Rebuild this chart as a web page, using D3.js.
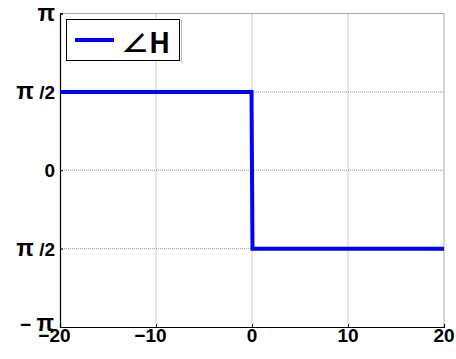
<!DOCTYPE html>
<html><head><meta charset="utf-8">
<script src="https://cdn.jsdelivr.net/npm/d3@7"></script>
<style>body{margin:0;background:#fff}</style>
</head><body>
<svg id="c" width="456" height="359"></svg>
<script>
const xs = [-20, -0.05, 0.05, 20];
const phase = [Math.PI/2, Math.PI/2, -Math.PI/2, -Math.PI/2];
const xTicks = [-20, -10, 0, 10, 20];
const xTickLabels = ["−20", "−10", "0", "10", "20"];
const yTicks = [-Math.PI, -Math.PI/2, 0, Math.PI/2, Math.PI];
const yTickLabels = ["− π", "π /2", "0", "π /2", "π"];
const legendLabel = "∠H";

const svg = d3.select("#c");
const L = 60, R = 444, T = 13.5, B = 327;
const x = d3.scaleLinear().domain([-20, 20]).range([L, R]);
const y = d3.scaleLinear().domain([-Math.PI, Math.PI]).range([B, T]);

// grid
const g = svg.append("g");
g.selectAll(".gx").data(xTicks.slice(1, -1)).enter().append("line")
  .attr("x1", d => x(d)).attr("x2", d => x(d)).attr("y1", T).attr("y2", B)
  .attr("stroke", "#999").attr("stroke-width", 1).attr("stroke-dasharray", "1,1");
g.selectAll(".gy").data(yTicks.slice(1, -1)).enter().append("line")
  .attr("y1", d => y(d)).attr("y2", d => y(d)).attr("x1", L).attr("x2", R)
  .attr("stroke", "#999").attr("stroke-width", 1).attr("stroke-dasharray", "1,1");
// top & right borders
svg.append("line").attr("x1", L).attr("x2", R).attr("y1", T).attr("y2", T).attr("stroke", "#aaa");
svg.append("line").attr("x1", R).attr("x2", R).attr("y1", T).attr("y2", B).attr("stroke", "#aaa");

// axes
const font = "'Liberation Sans', Arial, sans-serif";
const xa = svg.append("g").attr("transform", `translate(0,${B})`)
  .call(d3.axisBottom(x).tickValues(xTicks).tickSize(-3).tickFormat(""));
const ya = svg.append("g").attr("transform", `translate(${L},0)`)
  .call(d3.axisLeft(y).tickValues(yTicks).tickSize(-3).tickFormat(""));
[xa, ya].forEach(a => { a.select(".domain").attr("stroke", "#000").attr("stroke-width", 1.2); a.selectAll(".tick line").attr("stroke", "#000"); });

// x tick labels
const xl = svg.append("g");
xTicks.forEach((v, i) => {
  const lab = xTickLabels[i];
  const digits = lab.replace("−", "");
  const tmp = xl.append("text").attr("font-family", font).attr("font-weight", "bold").attr("font-size", 19).text(digits);
  const w = tmp.node().getComputedTextLength();
  tmp.remove();
  xl.append("text").attr("x", x(v) + w / 2).attr("y", 342)
    .attr("text-anchor", "end").attr("font-family", font).attr("font-weight", "bold").attr("font-size", 19)
    .text(lab);
});
// y tick labels (π drawn a bit larger)
const yl = svg.append("g");
yTicks.forEach((v, i) => {
  const lab = yTickLabels[i];
  const t = yl.append("text")
    .attr("x", i === 0 ? 54 : 55).attr("y", y(v) + 7 - (i === 0 ? 3 : 0))
    .attr("text-anchor", "end").attr("font-family", font).attr("font-weight", "bold").attr("font-size", 19);
  lab.split(/(π)/).filter(s => s.length).forEach(part => {
    t.append("tspan").attr("font-size", part === "π" ? 23 : 19).text(part);
  });
});

// line
const line = d3.line().x((d, i) => x(xs[i])).y(d => y(d));
svg.append("path").datum(phase).attr("d", line).attr("fill", "none")
  .attr("stroke", "#0000ff").attr("stroke-width", 4).attr("stroke-linejoin", "miter");

// legend
const lg = svg.append("g");
lg.append("rect").attr("x", 181).attr("y", 20).attr("width", 1).attr("height", 42).attr("fill", "#bbb");
lg.append("rect").attr("x", 66.5).attr("y", 19.5).attr("width", 113).attr("height", 41)
  .attr("fill", "#fff").attr("stroke", "#000").attr("stroke-width", 1);
lg.append("line").attr("x1", 75).attr("x2", 114).attr("y1", 40).attr("y2", 40)
  .attr("stroke", "#0000ff").attr("stroke-width", 4);
lg.append("text").attr("x", 121).attr("y", 53).attr("font-family", "'Noto Sans CJK JP', sans-serif")
  .attr("font-weight", "bold").attr("font-size", 28).text(legendLabel);
</script>
</body></html>
